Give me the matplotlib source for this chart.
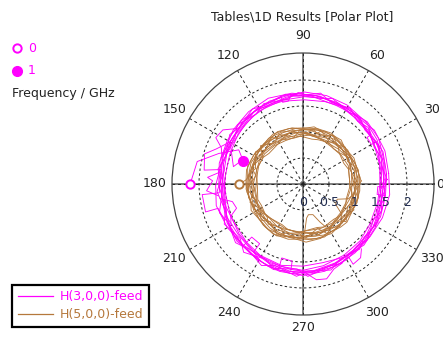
import numpy as np
import matplotlib
matplotlib.use("Agg")
import matplotlib.pyplot as plt
from matplotlib.lines import Line2D

plt.rcParams["font.family"] = ["DejaVu Sans"]
plt.rcParams["font.size"] = 9

MAGENTA = "#ff00ff"
BROWN = "#b5783c"

# sample angle grids (deg) used by the frequency loops
angles_a = [0, 14, 31, 44, 61, 75, 89, 104, 121, 134, 150, 166, 181, 194, 210, 226, 239, 255, 270, 284, 300, 315, 329, 346]
angles_b = [7, 22, 37, 53, 67, 82, 97, 112, 127, 142, 158, 173, 188, 203, 218, 233, 247, 262, 277, 292, 307, 322, 337, 353]
angles_c = [3, 18, 27, 41, 49, 58, 71, 79, 93, 101, 116, 124, 138, 146, 162, 170,
            185, 199, 207, 221, 229, 243, 251, 266, 273, 288, 296, 311, 319, 333, 341, 356]

# H(3,0,0)-feed loops (magnitude)
h3_loop1 = [1.55, 1.60, 1.66, 1.70, 1.74, 1.76, 1.77, 1.74, 1.70, 1.66, 1.62, 1.58, 1.55, 1.58, 1.62, 1.66, 1.70, 1.74, 1.76, 1.73, 1.68, 1.62, 1.58, 1.55]
h3_loop2 = [1.62, 1.66, 1.62, 1.68, 1.70, 1.72, 1.70, 1.66, 1.62, 1.58, 1.52, 1.50, 1.54, 1.60, 1.58, 1.62, 1.66, 1.70, 1.68, 1.64, 1.60, 1.58, 1.62, 1.60]
h3_loop3 = [1.48, 1.52, 1.58, 1.62, 1.66, 1.70, 1.68, 1.66, 1.64, 1.60, 1.56, 1.62, 1.68, 1.72, 1.68, 1.64, 1.62, 1.64, 1.66, 1.62, 1.58, 1.55, 1.50, 1.48]
h3_loop4 = [1.66, 1.70, 1.72, 1.66, 1.64, 1.68, 1.74, 1.72, 1.68, 1.62, 1.58, 1.54, 1.50, 1.52, 1.56, 1.60, 1.64, 1.66, 1.72, 1.70, 1.66, 1.64, 1.66, 1.68]
h3_loop5 = [1.58, 1.62, 1.70, 1.72, 1.68, 1.64, 1.62, 1.64, 1.68, 1.70, 1.68, 1.66, 1.62, 1.56, 1.52, 1.56, 1.60, 1.62, 1.58, 1.56, 1.62, 1.66, 1.62, 1.60]
h3_loop6 = [1.52, 1.56, 1.60, 1.62, 1.68, 1.72, 1.76, 1.78, 1.74, 1.70, 1.64, 1.60, 1.58, 1.62, 1.66, 1.68, 1.72, 1.74, 1.70, 1.66, 1.62, 1.56, 1.52, 1.50]
h3_loop7 = [1.50, 1.60, 1.54, 1.66, 1.60, 1.72, 1.66, 1.78, 1.70, 1.76, 1.68, 1.74, 1.64, 1.70, 1.58, 1.66,
            1.56, 1.70, 1.62, 1.72, 1.64, 1.76, 1.66, 1.78, 1.68, 1.74, 1.62, 1.66, 1.56, 1.62, 1.52, 1.58]
h3_loop8 = [1.62, 1.54, 1.64, 1.58, 1.68, 1.64, 1.74, 1.68, 1.76, 1.66, 1.72, 1.62, 1.70, 1.58, 1.64, 1.54,
            1.66, 1.58, 1.70, 1.60, 1.74, 1.62, 1.72, 1.64, 1.78, 1.66, 1.70, 1.58, 1.64, 1.52, 1.60, 1.50]
h3_loop9 = [1.56, 1.58, 1.62, 1.60, 1.64, 1.70, 1.68, 1.72, 1.74, 1.70, 1.66, 1.68, 1.60, 1.62, 1.66, 1.60,
            1.52, 1.56, 1.64, 1.68, 1.66, 1.70, 1.74, 1.70, 1.72, 1.66, 1.64, 1.60, 1.62, 1.58, 1.56, 1.54]

# start of the sweep (0 GHz) and the jagged excursions
h3_start_theta = [180, 168, 160, 152, 158, 166, 150, 135, 120]
h3_start_r = [2.17, 2.08, 1.72, 1.40, 1.25, 1.38, 1.62, 1.66, 1.70]
h3_spurs = [
    ([205, 196, 196, 186, 186, 178], [1.66, 1.70, 1.95, 1.95, 1.62, 1.60]),
    ([150, 158, 163, 172, 170, 176], [1.62, 1.80, 1.98, 1.92, 1.60, 1.58]),
    ([140, 146, 152, 156, 162], [1.66, 1.86, 1.90, 1.72, 1.64]),
    ([172, 176, 178, 184, 188], [1.62, 1.84, 1.74, 1.86, 1.64]),
    ([220, 226, 226, 234, 234, 240], [1.64, 1.66, 1.42, 1.42, 1.62, 1.68]),
    ([248, 254, 254, 262, 262, 268], [1.68, 1.70, 1.48, 1.50, 1.70, 1.74]),
    ([272, 278, 284, 290, 296], [1.72, 1.86, 1.88, 1.74, 1.70]),
    ([298, 302, 302, 308, 312], [1.66, 1.66, 1.82, 1.80, 1.68]),
    ([346, 352, 352, 358, 358, 4], [1.56, 1.60, 1.44, 1.44, 1.58, 1.60]),
    ([24, 30, 30, 36, 36, 40], [1.60, 1.62, 1.52, 1.52, 1.62, 1.66]),
    ([94, 98, 100, 104, 104, 110], [1.72, 1.72, 1.62, 1.62, 1.72, 1.70]),
    ([190, 194, 200, 204, 210], [1.62, 1.40, 1.36, 1.52, 1.60]),
]

# H(5,0,0)-feed loops
h5_loop1 = [1.02, 1.06, 1.04, 1.00, 1.05, 1.08, 1.06, 1.02, 1.04, 1.08, 1.06, 1.02, 1.05, 1.08, 1.04, 1.00, 1.04, 1.06, 1.02, 0.98, 1.02, 1.06, 1.04, 1.00]
h5_loop2 = [0.96, 0.98, 1.02, 0.98, 0.94, 0.98, 1.00, 0.96, 0.94, 0.98, 1.02, 0.98, 0.94, 0.96, 1.00, 0.97, 0.94, 0.92, 0.96, 1.00, 0.96, 0.94, 0.98, 1.00]
h5_loop3 = [1.08, 1.10, 1.06, 1.08, 1.12, 1.10, 1.08, 1.10, 1.12, 1.08, 1.10, 1.12, 1.10, 1.06, 1.08, 1.10, 1.12, 1.10, 1.06, 1.08, 1.10, 1.06, 1.08, 1.10]
h5_loop4 = [0.90, 0.94, 0.92, 0.90, 0.93, 0.95, 0.92, 0.90, 0.92, 0.94, 0.92, 0.90, 0.92, 0.95, 0.93, 0.90, 0.92, 0.94, 0.90, 0.92, 0.94, 0.91, 0.90, 0.92]
h5_loop5 = [1.00, 1.02, 0.98, 1.02, 1.00, 0.96, 0.98, 1.02, 1.00, 0.98, 1.02, 1.04, 1.00, 0.98, 0.96, 1.00, 1.02, 0.98, 1.00, 1.03, 1.00, 0.98, 1.02, 1.04]
h5_loop6 = [1.06, 1.04, 1.08, 1.06, 1.02, 1.04, 1.08, 1.06, 1.04, 1.06, 1.04, 1.06, 1.09, 1.06, 1.04, 1.06, 1.08, 1.04, 1.02, 1.06, 1.08, 1.06, 1.04, 1.06]
h5_loop7 = [0.94, 0.96, 1.00, 0.96, 0.92, 0.94, 0.97, 0.94, 0.96, 0.99, 0.96, 0.93, 0.96, 1.00, 0.96, 0.92, 0.96, 0.98, 0.94, 0.96, 0.98, 0.95, 0.92, 0.96]
h5_loop8 = [1.10, 1.08, 1.04, 1.08, 1.10, 1.06, 1.04, 1.08, 1.10, 1.06, 1.08, 1.06, 1.02, 1.04, 1.08, 1.10, 1.06, 1.04, 1.08, 1.10, 1.06, 1.04, 1.08, 1.10]
h5_loop9 = [0.98, 1.06, 0.96, 1.08, 1.00, 1.10, 0.98, 1.06, 0.94, 1.04, 0.96, 1.08, 0.98, 1.10, 0.96, 1.06,
            0.94, 1.08, 0.98, 1.06, 0.96, 1.10, 1.00, 1.06, 0.94, 1.02, 0.96, 1.08, 1.00, 1.10, 0.98, 1.04]
h5_loop10 = [1.04, 0.94, 1.06, 0.92, 1.02, 0.96, 1.08, 0.94, 1.04, 0.92, 1.06, 0.96, 1.10, 0.94, 1.04, 0.92,
             1.08, 0.96, 1.06, 0.92, 1.02, 0.94, 1.08, 0.96, 1.04, 0.90, 1.06, 0.94, 1.10, 0.96, 1.04, 0.92]
h5_loop11 = [1.12, 1.08, 1.10, 1.06, 1.12, 1.10, 1.08, 1.12, 1.06, 1.10, 1.12, 1.08, 1.06, 1.10, 1.12, 1.08,
             1.10, 1.06, 1.12, 1.08, 1.10, 1.12, 1.06, 1.08, 1.12, 1.10, 1.06, 1.10, 1.12, 1.08, 1.10, 1.06]
h5_loop12 = [0.90, 0.92, 0.88, 0.92, 0.90, 0.94, 0.90, 0.88, 0.92, 0.90, 0.94, 0.90, 0.88, 0.92, 0.94, 0.90,
             0.88, 0.92, 0.90, 0.94, 0.90, 0.88, 0.92, 0.94, 0.90, 0.88, 0.92, 0.90, 0.94, 0.92, 0.88, 0.90]
h5_start_theta = [180, 176, 170]
h5_start_r = [1.23, 1.10, 1.04]
h5_spurs = [
    ([268, 272, 276, 280, 288, 294, 298, 302], [0.96, 0.92, 0.66, 0.60, 0.62, 0.80, 0.94, 0.98]),
    ([318, 322, 328, 336, 342, 346], [0.98, 0.95, 0.74, 0.72, 0.92, 0.96]),
]

# frequency markers (deg, magnitude)
h3_f0 = (180, 2.17)
h3_f1 = (159, 1.24)
h5_f0 = (180, 1.23)

radial_ticks = [0, 0.5, 1, 1.5, 2]
radial_labels = ["0", "0.5", "1", "1.5", "2"]
theta_ticks = [0, 30, 60, 90, 120, 150, 180, 210, 240, 270, 300, 330]
r_max = 2.52


def closed(angles, radii):
    th = np.deg2rad(list(angles) + [angles[0] + 360])
    return th, list(radii) + [radii[0]]


fig = plt.figure(figsize=(4.43, 3.37), dpi=100)
ax = fig.add_axes([172 / 443, 22 / 337, 262 / 443, 262 / 337], projection="polar")

lw = 0.65
h3_loops = [(angles_a, h3_loop1), (angles_b, h3_loop2), (angles_a, h3_loop3), (angles_b, h3_loop4),
            (angles_a, h3_loop5), (angles_b, h3_loop6), (angles_c, h3_loop7), (angles_c, h3_loop8),
            (angles_c, h3_loop9)]
h5_loops = [(angles_a, h5_loop1), (angles_b, h5_loop2), (angles_a, h5_loop3), (angles_b, h5_loop4),
            (angles_a, h5_loop5), (angles_b, h5_loop6), (angles_a, h5_loop7), (angles_b, h5_loop8),
            (angles_c, h5_loop9), (angles_c, h5_loop10), (angles_c, h5_loop11), (angles_c, h5_loop12)]

ax.plot(np.deg2rad(h3_start_theta), h3_start_r, color=MAGENTA, lw=lw)
for ang, loop in h3_loops:
    ax.plot(*closed(ang, loop), color=MAGENTA, lw=lw)
for th, r in h3_spurs:
    ax.plot(np.deg2rad(th), r, color=MAGENTA, lw=lw)

ax.plot(np.deg2rad(h5_start_theta), h5_start_r, color=BROWN, lw=lw)
for ang, loop in h5_loops:
    ax.plot(*closed(ang, loop), color=BROWN, lw=lw)
for th, r in h5_spurs:
    ax.plot(np.deg2rad(th), r, color=BROWN, lw=lw)

ax.plot(np.deg2rad(h3_f0[0]), h3_f0[1], "o", mfc="white", mec=MAGENTA, ms=6, mew=1.4, zorder=5)
ax.plot(np.deg2rad(h3_f1[0]), h3_f1[1], "o", color=MAGENTA, ms=7, zorder=5)
ax.plot(np.deg2rad(h5_f0[0]), h5_f0[1], "o", mfc="white", mec=BROWN, ms=6, mew=1.4, zorder=5)

# grid
ax.set_ylim(0, r_max)
ax.set_rticks(radial_ticks[1:])
ax.set_yticklabels([])
ax.set_thetagrids(theta_ticks, labels=[""] * len(theta_ticks))
ax.xaxis.grid(True, color="#222222", ls=(0, (3, 3)), lw=0.7)
ax.yaxis.grid(True, color="#222222", ls=(0, (2.5, 2.5)), lw=0.7)
for a in [0, 90, 180, 270]:
    ax.axvline(np.deg2rad(a), color="#808080", lw=1.4, zorder=1)
ax.spines["polar"].set_color("#444444")
ax.spines["polar"].set_linewidth(0.9)
ax.set_facecolor("white")

for a in theta_ticks:
    dist = {0: 2.63, 270: 2.76}.get(a, 2.86)
    ax.text(np.deg2rad(a), dist, str(a), ha="center", va="center", color="#222222", clip_on=False)
for r, lab in zip(radial_ticks, radial_labels):
    ax.annotate(lab, xy=(0, r), xytext=(0, -18), textcoords="offset pixels",
                ha="center", va="center", color="#1e2a4e")

fig.text(302 / 443, 1 - 17 / 337, "Tables\\1D Results [Polar Plot]", ha="center", va="center",
         color="#222222")

# frequency marker legend (top left)
fig.add_artist(Line2D([17 / 443], [1 - 48 / 337], marker="o", mfc="white", mec=MAGENTA, ms=6,
                      mew=1.4, transform=fig.transFigure))
fig.add_artist(Line2D([17 / 443], [1 - 71 / 337], marker="o", color=MAGENTA, ms=7,
                      transform=fig.transFigure))
fig.text(28 / 443, 1 - 48 / 337, "0", color=MAGENTA, ha="left", va="center")
fig.text(28 / 443, 1 - 71 / 337, "1", color=MAGENTA, ha="left", va="center")
fig.text(12 / 443, 1 - 93 / 337, "Frequency / GHz", color="#222222", ha="left", va="center")

handles = [Line2D([], [], color=MAGENTA, lw=0.9), Line2D([], [], color=BROWN, lw=0.9)]
leg = fig.legend(handles, ["H(3,0,0)-feed", "H(5,0,0)-feed"], loc="lower left",
                 bbox_to_anchor=(12 / 443, 10 / 337), bbox_transform=fig.transFigure,
                 fancybox=False, framealpha=1, edgecolor="black", borderaxespad=0,
                 handlelength=2.8, handletextpad=0.6, labelcolor="linecolor",
                 borderpad=0.45, labelspacing=0.4)
leg.get_frame().set_linewidth(1.6)

fig.savefig("out.png", dpi=100)
